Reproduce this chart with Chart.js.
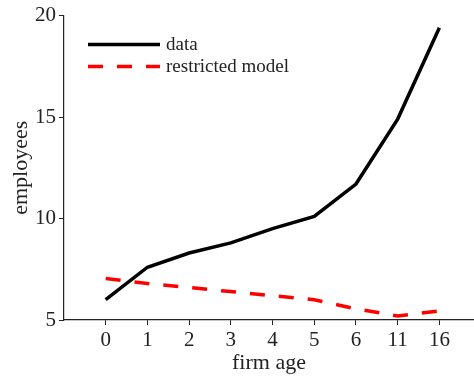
<!DOCTYPE html>
<html>
<head>
<meta charset="utf-8">
<script src="https://cdn.jsdelivr.net/npm/chart.js@4.4.0/dist/chart.umd.min.js"></script>
<style>
  html, body { margin: 0; padding: 0; background: #fff; }
  #wrap { width: 474px; height: 380px; }
</style>
</head>
<body>
<div id="wrap"><canvas id="c" width="474" height="380"></canvas></div>
<script>
const ages = ["0", "1", "2", "3", "4", "5", "6", "11", "16"];
const dataSeries = [6.0, 7.6, 8.3, 8.8, 9.5, 10.1, 11.7, 14.9, 19.4];
const modelSeries = [7.05, 6.8, 6.6, 6.4, 6.2, 6.0, 5.55, 5.2, 5.45];
const yTicks = [5, 10, 15, 20];

const serif = "'Liberation Serif', 'DejaVu Serif', serif";

// legend drawn inside the plot, top-left
const innerLegend = {
  id: "innerLegend",
  afterDraw(chart) {
    const ctx = chart.ctx;
    const x0 = chart.chartArea.left + 24;
    let y = chart.chartArea.top + 29;
    chart.data.datasets.forEach((ds) => {
      ctx.save();
      ctx.strokeStyle = ds.borderColor;
      ctx.lineWidth = ds.borderWidth;
      ctx.setLineDash(ds.borderDash || []);
      ctx.beginPath();
      ctx.moveTo(x0, y);
      ctx.lineTo(x0 + 72, y);
      ctx.stroke();
      ctx.setLineDash([]);
      ctx.fillStyle = "#222";
      ctx.font = "19px " + serif;
      ctx.textBaseline = "middle";
      ctx.fillText(ds.label, x0 + 78, y);
      ctx.restore();
      y += 22;
    });
  },
};

new Chart(document.getElementById("c"), {
  type: "line",
  data: {
    datasets: [
      {
        label: "data",
        data: dataSeries.map((v, i) => ({ x: i, y: v })),
        borderColor: "#000", borderWidth: 3.5, pointRadius: 0, tension: 0,
      },
      {
        label: "restricted model",
        data: modelSeries.map((v, i) => ({ x: i, y: v })),
        borderColor: "#ff0000", borderWidth: 3.5, borderDash: [15, 14], pointRadius: 0, tension: 0,
      },
    ],
  },
  options: {
    responsive: false,
    animation: false,
    layout: { padding: { top: 15, left: 0, right: 0, bottom: 0 } },
    plugins: { legend: { display: false }, tooltip: { enabled: false } },
    scales: {
      x: {
        type: "linear", min: -1, max: 8.83,
        afterBuildTicks: (s) => { s.ticks = ages.map((_, i) => ({ value: i })); },
        afterFit: (s) => { s.height = 60; },
        grid: { drawOnChartArea: false, drawTicks: true, tickLength: 5, color: "#222" },
        border: { color: "#222", width: 1.2 },
        ticks: { color: "#222", padding: 3, font: { family: serif, size: 21 }, callback: (v) => ages[v] },
        title: { display: true, text: "firm age", color: "#222", padding: { top: 0 }, font: { family: serif, size: 22 } },
      },
      y: {
        min: 5, max: 20,
        afterBuildTicks: (s) => { s.ticks = yTicks.map((v) => ({ value: v })); },
        afterFit: (s) => { s.width = 64; },
        grid: { drawOnChartArea: false, drawTicks: true, tickLength: 5, color: "#222" },
        border: { color: "#222", width: 1.2 },
        ticks: { color: "#222", padding: 3, font: { family: serif, size: 21 } },
        title: { display: true, text: "employees", color: "#222", padding: { top: 8 }, font: { family: serif, size: 22 } },
      },
    },
  },
  plugins: [innerLegend],
});
</script>
</body>
</html>
